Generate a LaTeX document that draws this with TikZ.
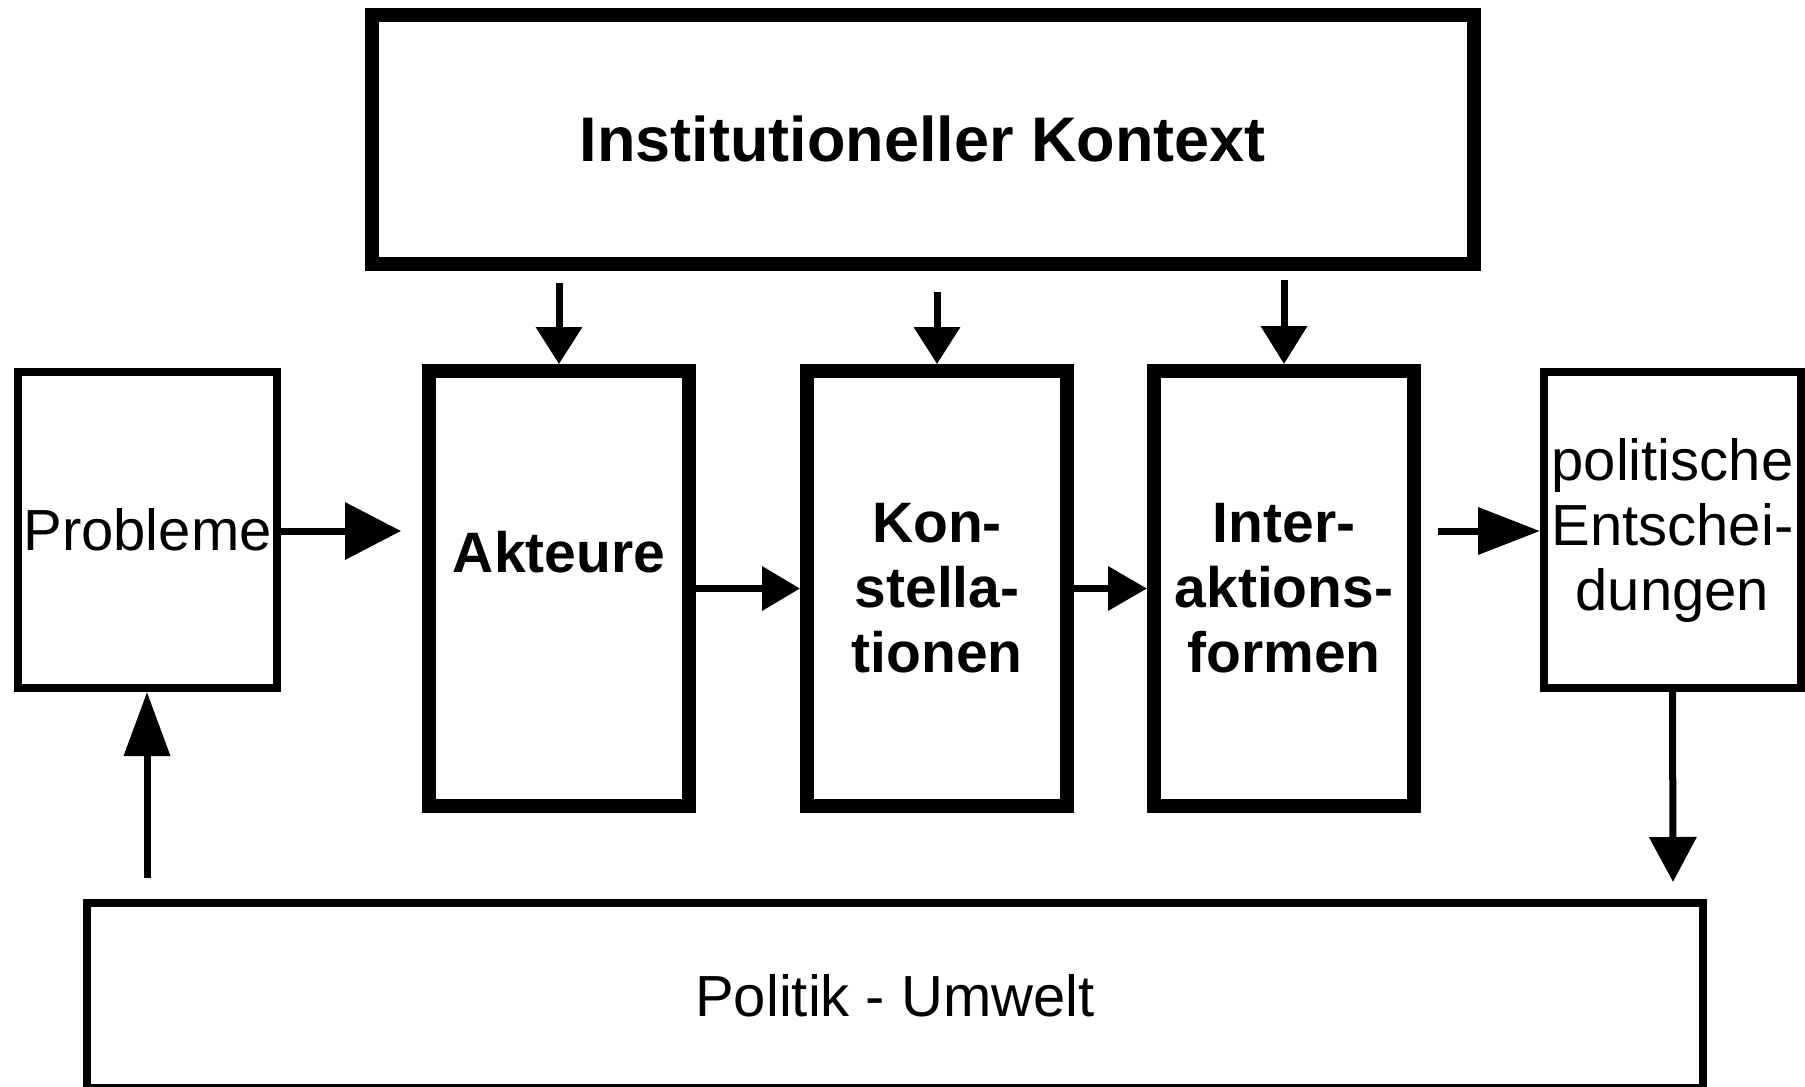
\documentclass[tikz,border=0pt]{standalone}
\usepackage{fontspec}
\setmainfont{Liberation Sans}
\usetikzlibrary{arrows.meta}
\begin{document}
\begin{tikzpicture}[x=0.5pt,y=-0.5pt,
  thickbox/.style={draw, line width=7pt, inner sep=0pt, minimum width=130pt, minimum height=217.5pt},
  thinbox/.style={draw, line width=4pt, inner sep=0pt},
  bigtext/.style={font=\fontsize{28.5}{32.5}\selectfont\bfseries, align=center},
  normtext/.style={font=\fontsize{29}{32.5}\selectfont, align=center},
  conn/.style={line width=3.5pt},
  line join=miter]
\useasboundingbox (0,0) rectangle (1805,1087);
% boxes
\node[thickbox, minimum width=550.75pt, minimum height=124.75pt,
      font=\fontsize{31.5}{36}\selectfont\bfseries] (inst) at (922.75,139.25) {Institutioneller Kontext};
\node[thickbox] (akt) at (559,588.5) {};
\node[bigtext] (akttext) at (559,552) {Akteure};
\node[thickbox, bigtext] (kon) at (937,588.5) {Kon-\\stella-\\tionen};
\node[thickbox, bigtext] (inter) at (1284,588.5) {Inter-\\aktions-\\formen};
\node[thinbox, normtext, minimum width=129.5pt, minimum height=158pt] (prob) at (147.5,530) {Probleme};
\node[thinbox, normtext, minimum width=128.5pt, minimum height=158pt] (pol) at (1672.5,530) {politische\\Entschei-\\dungen};
\node[thinbox, normtext, minimum width=808pt, minimum height=92.5pt] (umw) at (895,995.5) {Politik - Umwelt};
% free connector ends
\coordinate (a1) at (559,283);
\coordinate (a2) at (937,292);
\coordinate (a3) at (1284,280);
\coordinate (pa) at (401,531);
\coordinate (pb) at (1438,531);
\coordinate (pc) at (1673,882);
\coordinate (pd) at (147,878);
% connectors
\draw[conn, -{Triangle[length=18.5pt,width=22.5pt]}] (a1) -- (akt.north);
\draw[conn, -{Triangle[length=18.5pt,width=22.5pt]}] (a2) -- (kon.north);
\draw[conn, -{Triangle[length=19pt,width=22.5pt]}] (a3) -- (inter.north);
\draw[conn, -{Triangle[length=28pt,width=28pt]}] (prob.east |- pa) -- (pa);
\draw[conn, -{Triangle[length=19pt,width=21.5pt]}] (akt.east) -- (kon.west);
\draw[conn, -{Triangle[length=19.5pt,width=21.5pt]}] (kon.east) -- (inter.west);
\draw[conn, -{Triangle[length=31pt,width=23pt]}] (pb) -- (pb -| pol.west);
\draw[conn, -{Triangle[length=22.5pt,width=23pt]}] (pol.south) -- (pc);
\draw[conn, -{Triangle[length=32pt,width=22.5pt]}] (pd) -- (pd |- prob.south);
\end{tikzpicture}
\end{document}
